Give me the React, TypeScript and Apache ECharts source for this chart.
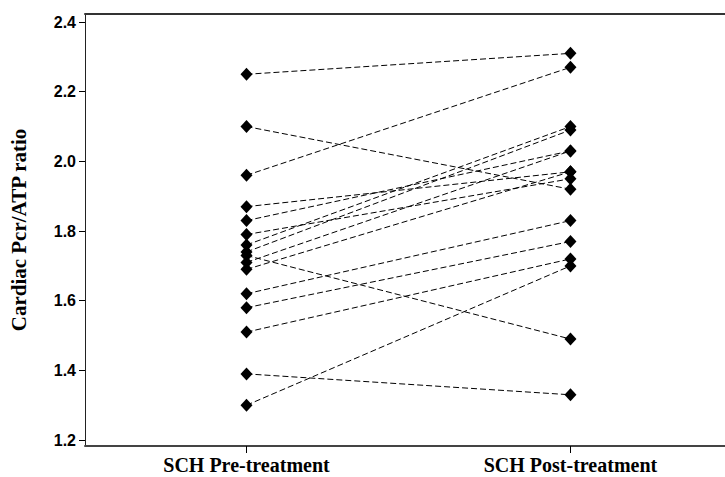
import React, { useEffect, useRef } from "react";
import * as echarts from "echarts";

// Two measurement occasions on the x axis
const categories = ["SCH Pre-treatment", "SCH Post-treatment"];

// Paired PCr/ATP ratios, one entry per subject
const preValues = [2.25, 2.1, 1.96, 1.87, 1.83, 1.79, 1.76, 1.74, 1.73, 1.71, 1.69, 1.62, 1.58, 1.51, 1.39, 1.3];
const postValues = [2.31, 1.92, 2.27, 1.97, 2.03, 1.95, 2.1, 2.09, 1.49, 2.03, 1.97, 1.83, 1.77, 1.72, 1.33, 1.7];

const yTicks = [1.2, 1.4, 1.6, 1.8, 2.0, 2.2, 2.4];
const yTitle = "Cardiac Pcr/ATP ratio";

export default function App() {
  const ref = useRef<HTMLDivElement>(null);

  useEffect(() => {
    if (!ref.current) return;
    const chart = echarts.init(ref.current, null, { renderer: "svg" });

    const series = preValues.map((pre, i) => ({
      type: "line",
      data: [
        [1, pre],
        [2, postValues[i]],
      ],
      symbol: "diamond",
      symbolSize: [12, 13],
      itemStyle: { color: "#000" },
      lineStyle: { color: "#000", width: 1, type: [6, 3] },
      z: 3,
    }));

    chart.setOption({
      animation: false,
      grid: { left: 82, top: 14, right: -3, bottom: 31 },
      xAxis: [
        {
          type: "value",
          min: 0.5015,
          max: 2.477,
          splitLine: { show: false },
          axisLine: { show: true, lineStyle: { color: "#444", width: 2 } },
          axisTick: { show: true, length: 7, customValues: [1, 2], lineStyle: { color: "#000", width: 1 } },
          axisLabel: {
            customValues: [1, 2],
            formatter: (v: number) => categories[Math.round(v) - 1] ?? "",
            fontFamily: "Liberation Serif",
            fontWeight: "bold",
            fontSize: 20,
            color: "#000",
            margin: 9,
          },
        },
        {
          type: "value",
          position: "top",
          min: 0.5015,
          max: 2.477,
          splitLine: { show: false },
          axisLine: { show: true, lineStyle: { color: "#333", width: 2 } },
          axisTick: { show: false },
          axisLabel: { show: false },
        },
      ],
      yAxis: {
        type: "value",
        min: 1.183,
        max: 2.423,
        splitLine: { show: false },
        axisLine: { show: true, lineStyle: { color: "#222", width: 1 } },
        axisTick: { show: true, length: 6, customValues: yTicks, lineStyle: { color: "#000" } },
        axisLabel: {
          customValues: yTicks,
          formatter: (v: number) => v.toFixed(1),
          fontFamily: "Liberation Sans",
          fontWeight: "bold",
          fontSize: 16,
          color: "#000",
          margin: 9,
        },
        name: yTitle,
        nameLocation: "middle",
        nameGap: 56,
        nameRotate: 90,
        nameTextStyle: {
          fontFamily: "Liberation Serif",
          fontWeight: "bold",
          fontSize: 21,
          color: "#000",
        },
      },
      series,
    });

    return () => chart.dispose();
  }, []);

  return <div ref={ref} style={{ width: 725, height: 477, position: "absolute", left: 0, top: 0 }} />;
}
